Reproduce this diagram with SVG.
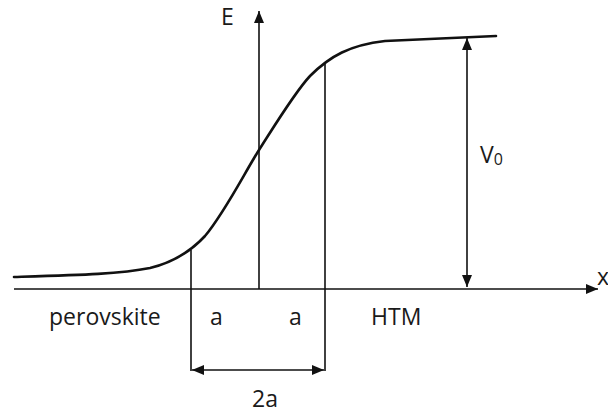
<svg xmlns="http://www.w3.org/2000/svg" width="608" height="416" viewBox="0 0 608 416">
<defs>
<style>
.ax{stroke:#111;stroke-width:1.6;fill:none}
.cv{stroke:#111;stroke-width:2.6;fill:none;stroke-linecap:round}
text{font-family:"Open Sans","Noto Sans","Liberation Sans",sans-serif;font-size:23px;fill:#1a1a1a}
</style>
<marker id="ah" viewBox="0 0 12 10" refX="12" refY="5" markerWidth="12" markerHeight="10" markerUnits="userSpaceOnUse" orient="auto-start-reverse">
<path d="M0,0 L12,5 L0,10 z" fill="#111"/>
</marker>
</defs>
<g id="connectors">
<line class="ax" x1="14" y1="289" x2="598" y2="289" marker-end="url(#ah)"/>
<line class="ax" x1="259" y1="289" x2="259" y2="11" marker-end="url(#ah)"/>
<line class="ax" x1="191" y1="250" x2="191" y2="371"/>
<line class="ax" x1="325" y1="64" x2="325" y2="371"/>
<line class="ax" x1="192" y1="370" x2="324" y2="370" marker-start="url(#ah)" marker-end="url(#ah)"/>
<line class="ax" x1="467" y1="38" x2="467" y2="287" marker-start="url(#ah)" marker-end="url(#ah)"/>
</g>
<g id="curve">
<path class="cv" d="M14,277 C80,275 120,274 150,268 C175,262 192,250 205,236 C225,212 245,172 259,150 C275,125 295,92 310,76 C330,56 350,45 385,41 L496,36"/>
</g>
<g id="labels">
<text x="221" y="25">E</text>
<text x="597" y="285">x</text>
<text x="480" y="163">V<tspan font-size="16" dy="2">0</tspan></text>
<text x="49" y="325">perovskite</text>
<text x="210" y="325">a</text>
<text x="289" y="325">a</text>
<text x="371" y="325">HTM</text>
<text x="252" y="407">2a</text>
</g>
</svg>
